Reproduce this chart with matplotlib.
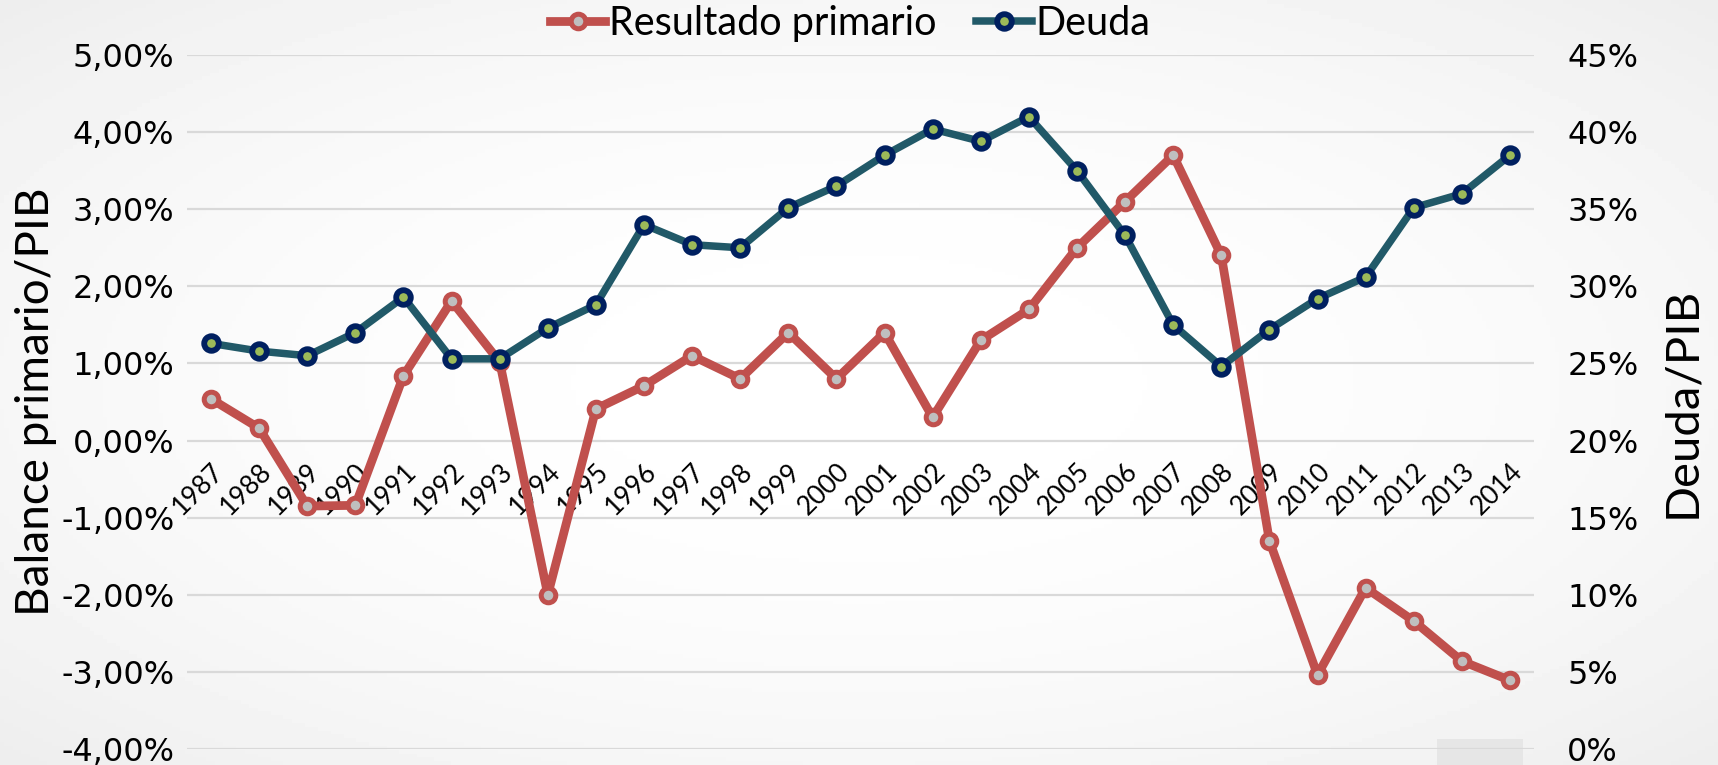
import numpy as np
import matplotlib
matplotlib.use('Agg')
import matplotlib.pyplot as plt
from matplotlib.lines import Line2D
from matplotlib.patches import Rectangle
from matplotlib.ticker import FuncFormatter

YEARS = [str(y) for y in range(1987, 2015)]

# Resultado primario (% del PIB), eje izquierdo
RESULTADO = [0.54, 0.16, -0.85, -0.84, 0.84, 1.81, 1.02, -2.00, 0.41, 0.71,
             1.10, 0.80, 1.40, 0.80, 1.40, 0.30, 1.30, 1.70, 2.50, 3.10,
             3.70, 2.40, -1.30, -3.04, -1.91, -2.34, -2.86, -3.11]

# Deuda (% del PIB), eje derecho
DEUDA = [26.3, 25.8, 25.5, 27.0, 29.3, 25.3, 25.3, 27.3, 28.8, 34.0,
         32.7, 32.5, 35.1, 36.5, 38.5, 40.2, 39.4, 41.0, 37.5, 33.3,
         27.5, 24.8, 27.2, 29.2, 30.6, 35.1, 36.0, 38.5]

LEFT_TICKS = [-4, -3, -2, -1, 0, 1, 2, 3, 4, 5]
RIGHT_TICKS = [0, 5, 10, 15, 20, 25, 30, 35, 40, 45]

RED = '#C0504D'
RED_FACE = '#BFBFBF'
TEAL = '#215968'
NAVY = '#002060'
GREEN = '#9BBB59'
GRID = '#D9D9D9'

NARROW = ['Lato', 'DejaVu Sans']
TICKFONT = 'DejaVu Sans'

red_style = dict(color=RED, lw=6.3, marker='o', ms=10.5, mfc=RED_FACE, mec=RED, mew=3.6)
teal_style = dict(color=TEAL, lw=5.4, marker='o', ms=10.5, mfc=GREEN, mec=NAVY, mew=4.2)

fig = plt.figure(figsize=(17.18, 7.65), dpi=100)

# background: soft radial shading like the slide
bg = fig.add_axes([0, 0, 1, 1], zorder=-10)
gy, gx = np.mgrid[-1:1:200j, -1:1:400j]
shade = 1.0 - 0.035 * (gx ** 2 + gy ** 2)
bg.imshow(shade, cmap='gray', vmin=0, vmax=1, aspect='auto', extent=[0, 1, 0, 1])
bg.add_patch(Rectangle((1437 / 1718, 0), 86 / 1718, 26 / 765, color='#E6E6E6', lw=0))
bg.set_xlim(0, 1)
bg.set_ylim(0, 1)
bg.axis('off')

ax = fig.add_axes([187 / 1718, 1 - 749 / 765, (1534 - 187) / 1718, (749 - 55) / 765])
ax.patch.set_alpha(0)
x = np.arange(len(YEARS))

ax.plot(x, RESULTADO, solid_joinstyle='round', zorder=3, **red_style)
ax.set_ylim(-4, 5)
ax.set_xlim(-0.5, len(YEARS) - 0.5)
ax.set_yticks(LEFT_TICKS)
ax.yaxis.set_major_formatter(FuncFormatter(lambda v, p: f'{v:.2f}%'.replace('.', ',')))
ax.grid(axis='y', color=GRID, lw=1.6)
ax.set_axisbelow(True)
for s in ax.spines.values():
    s.set_visible(False)
ax.spines['bottom'].set_position(('data', 0))
ax.set_xticks(x)
ax.set_xticklabels(YEARS, rotation=45, ha='right', rotation_mode='anchor',
                   family=NARROW, fontsize=19)
ax.tick_params(axis='x', length=0, pad=13)
ax.tick_params(axis='y', length=0, pad=9, labelsize=23)
for t in ax.get_yticklabels():
    t.set_family(TICKFONT)
ax.set_ylabel('Balance primario/PIB', family=NARROW, fontsize=33, va='center')
ax.yaxis.set_label_coords(-0.112, 0.5)

ax2 = ax.twinx()
ax2.plot(x, DEUDA, solid_joinstyle='round', zorder=3, **teal_style)
ax2.set_ylim(0, 45)
ax2.set_yticks(RIGHT_TICKS)
ax2.yaxis.set_major_formatter(FuncFormatter(lambda v, p: f'{v:.0f}%'))
for s in ax2.spines.values():
    s.set_visible(False)
ax2.tick_params(axis='y', length=0, pad=24, labelsize=23)
for t in ax2.get_yticklabels():
    t.set_family(TICKFONT)
ax2.set_ylabel('Deuda/PIB', family=NARROW, fontsize=34, va='center', rotation=90)
ax2.yaxis.set_label_coords(1.11, 0.5)

handles = [Line2D([], [], **red_style), Line2D([], [], **teal_style)]
fig.legend(handles, ['Resultado primario', 'Deuda'], loc='center',
           bbox_to_anchor=(0.495, 0.969), ncol=2, frameon=False,
           prop={'family': NARROW, 'size': 28.5}, handlelength=1.4,
           handletextpad=0.1, columnspacing=1.0)

fig.savefig('out.png', dpi=100)
